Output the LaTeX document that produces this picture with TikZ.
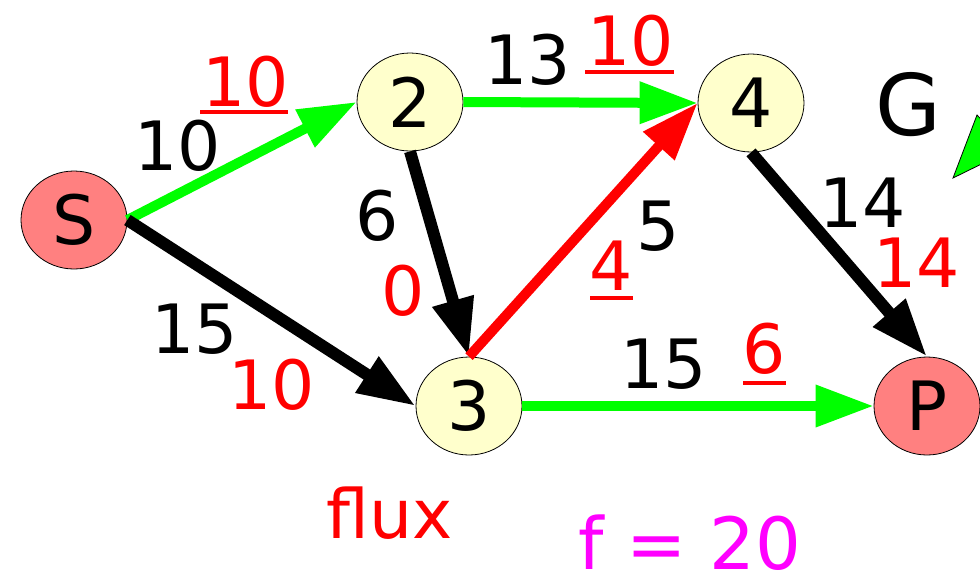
\documentclass[tikz,border=0pt]{standalone}
\usepackage{fontspec}
\setmainfont{DejaVu Sans}
\usetikzlibrary{arrows.meta,shapes.geometric}
\definecolor{salmon}{HTML}{FF8080}
\definecolor{pale}{HTML}{FFFFCC}
\definecolor{vgreen}{HTML}{00FF00}
\definecolor{vred}{HTML}{FF0000}
\definecolor{vmag}{HTML}{FF00FF}
\tikzset{
  vertex/.style={ellipse,draw=black,line width=0.8pt,minimum width=106pt,minimum height=98pt,inner sep=0pt,font=\fontsize{68}{80}\selectfont},
  endv/.style={vertex,fill=salmon},
  midv/.style={vertex,fill=pale},
  lbl/.style={anchor=base,inner sep=0pt,font=\fontsize{68}{80}\selectfont},
  capl/.style={lbl,text=black},
  flw/.style={lbl,text=vred},
  edgearr/.style={line width=10pt,-{Triangle[length=58pt,width=40pt]}},
  blackedge/.style={edgearr,black,line width=12pt},
  uline/.style={draw=vred,line width=3.5pt}
}
\begin{document}
\begin{tikzpicture}[x=1pt,y=-1pt]
\useasboundingbox (0,0) rectangle (980,574);
\clip (0,0) rectangle (980,574);
% vertices
\node[endv] (S) at (74,220) {S};
\node[midv] (n2) at (410,102) {2};
\node[midv] (n4) at (751,103) {4};
\node[midv] (n3) at (469,406) {3};
\node[endv] (P) at (927,406) {P};
% edges
\draw[edgearr,vgreen] (S.east) -- (n2.west);
\draw[blackedge] (S.east) -- (n3.west);
\draw[blackedge] (n2.south) -- (n3.north);
\draw[edgearr,vgreen] (n2.east) -- (n4.west);
\draw[edgearr,vred] (n3.north) -- (n4.west);
\draw[blackedge] (n4.south) -- (P.north);
\draw[edgearr,vgreen] (n3.east) -- (P.west);
% capacity labels
\node[capl] (c12) at (178,170) {10};
\node[capl] (c13) at (195,353) {15};
\node[capl] (c23) at (377,240) {6};
\node[capl] (c24) at (528,84) {13};
\node[capl] (c34) at (658,250) {5};
\node[capl] (c4P) at (863,227) {14};
\node[capl] (c3P) at (664,388) {15};
% flow labels
\node[flw] (f12) at (246,106) {10};
\node[flw] (f13) at (272,409) {10};
\node[flw] (f23) at (403,315) {0};
\node[flw] (f24) at (631,65) {10};
\node[flw] (f34) at (611,290) {4};
\node[flw] (f4P) at (917,287) {14};
\node[flw] (f3P) at (764,373) {6};
% underlines
\draw[uline] (200,112) -- (288,112);
\draw[uline] (585,72) -- (674,72);
\draw[uline] (590,298) -- (633,298);
\draw[uline] (743,383) -- (786,383);
% other texts
\node[lbl,font=\fontsize{85}{100}\selectfont] (G) at (908,135) {G};
\node[flw] (flux) at (390,538) {flux};
\node[lbl,text=vmag,font=\fontsize{72}{86}\selectfont] (fval) at (690,569) {f = 20};
% partial green triangle
\draw[fill=vgreen,draw=black,line width=0.8pt] (953,178) -- (977,115) -- (1010,150) -- cycle;
\end{tikzpicture}
\end{document}
